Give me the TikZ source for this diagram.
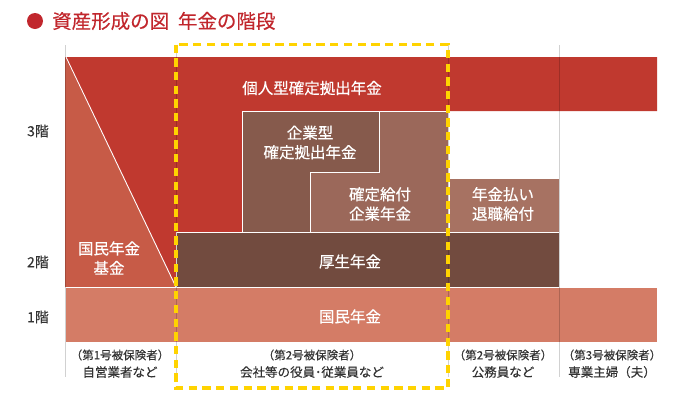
\documentclass[tikz,border=0pt]{standalone}
\usepackage{fontspec}
\usepackage{tikz}
\usepackage{xcolor}
\setmainfont{Noto Sans CJK JP}[FakeBold=0.35]
\definecolor{titlered}{HTML}{C1272D}
\definecolor{idecored}{HTML}{C0392F}
\definecolor{kikinred}{HTML}{C75B47}
\definecolor{kokuminred}{HTML}{D47C66}
\definecolor{koseibrown}{HTML}{724B3F}
\definecolor{dcbrown}{HTML}{865A4C}
\definecolor{dbbrown}{HTML}{9B685A}
\definecolor{haraibrown}{HTML}{A77262}
\definecolor{frameyellow}{HTML}{FFD300}
\definecolor{labelgray}{HTML}{333333}

\begin{document}
\begin{tikzpicture}[x=1pt, y=-1pt,
        boxtext/.style={text=white, align=center, inner sep=0pt,
            font=\fontsize{15.5}{19.5}\selectfont},
        floortext/.style={text=labelgray, inner sep=0pt,
            font=\fontsize{14}{16}\selectfont},
        kindtext/.style={text=labelgray, inner sep=0pt,
            font=\fontsize{11.5}{13}\selectfont},
        whotext/.style={text=labelgray, inner sep=0pt,
            font=\fontsize{12.5}{15}\selectfont},
        colline/.style={draw=black, opacity=0.18, line width=0.9pt}]
        \useasboundingbox (0, 0) rectangle (680, 400);

        % title
        \fill[titlered] (35, 21) circle (8);
        \node[anchor=west, inner sep=0pt, text=titlered,
            font=\fontsize{19.5}{22}\selectfont] (title) at (52, 21)
            {資産形成の図\hspace{0.45em}年金の階段};

        % 3rd floor and fund triangle
        \fill[idecored] (65, 57) rectangle (448, 287)
            (448, 57) rectangle (657, 111);
        \fill[kikinred] (65, 57) -- (176, 287) -- (65, 287) -- cycle;
        \draw[white, line width=0.9pt] (66, 57) -- (176, 287);

        % company plans
        \filldraw[fill=dbbrown, draw=white, line width=0.9pt]
            (242, 111) rectangle (448, 232);
        \filldraw[fill=dcbrown, draw=white, line width=0.9pt]
            (242, 111) -- (379, 111) -- (379, 172) -- (310, 172)
            -- (310, 232) -- (242, 232) -- cycle;
        \filldraw[fill=haraibrown, draw=white, line width=0.9pt]
            (449, 178) rectangle (559, 232);

        % 2nd and 1st floor
        \filldraw[fill=koseibrown, draw=white, line width=0.9pt]
            (176, 232) rectangle (559, 287);
        \filldraw[fill=kokuminred, draw=white, line width=0.9pt]
            (65, 287) rectangle (657, 342);

        % column lines
        \draw[colline] (65, 45) -- (65, 377)
            (176, 45) -- (176, 377)
            (448, 45) -- (448, 377)
            (559, 45) -- (559, 377);

        % employee frame
        \draw[frameyellow, line width=3.5pt, dash pattern=on 8.3pt off 5.4pt]
            (176, 44.5) rectangle (448, 388);

        % texts
        \node[boxtext] (ideco) at (312, 88) {個人型確定拠出年金};
        \node[boxtext] (dc) at (310, 142.5) {企業型\\確定拠出年金};
        \node[boxtext] (db) at (380, 204) {確定給付\\企業年金};
        \node[boxtext] (harai) at (503, 204) {年金払い\\退職給付};
        \node[boxtext] (kikin) at (109, 258) {国民年金\\基金};
        \node[boxtext] (kosei) at (350, 261.5) {厚生年金};
        \node[boxtext] (kokumin) at (350, 316.5) {国民年金};

        \node[floortext] (f3) at (38, 131) {3階};
        \node[floortext] (f2) at (38, 262) {2階};
        \node[floortext] (f1) at (38, 317) {1階};

        \node[kindtext] (kind1) at (120, 355) {（第1号被保険者）};
        \node[whotext] (who1) at (120, 372) {自営業者など};
        \node[kindtext] (kind2) at (312, 355) {（第2号被保険者）};
        \node[whotext] (who2) at (312, 372) {会社等の役員･従業員など};
        \node[kindtext] (kind3) at (503, 355) {（第2号被保険者）};
        \node[whotext] (who3) at (503, 372) {公務員など};
        \node[kindtext] (kind4) at (612, 355) {（第3号被保険者）};
        \node[whotext] (who4) at (612, 372) {専業主婦（夫）};
    \end{tikzpicture}
\end{document}
